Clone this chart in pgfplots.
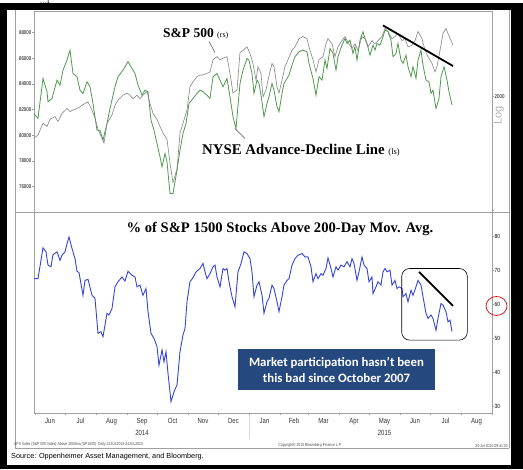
\documentclass[border=0pt]{standalone}
\usepackage{pgfplots}
\pgfplotsset{compat=1.18}
\usepackage{fontspec}
\setmainfont{Liberation Serif}
\newfontfamily\bbg[FakeStretch=0.8]{Liberation Sans}
\newfontfamily\arial{Liberation Sans}
\newfontfamily\calfont{Carlito}
\definecolor{bbgreen}{HTML}{4E9A4E}
\definecolor{bbblue}{HTML}{3545D8}
\definecolor{bbgray}{HTML}{858585}
\definecolor{boxblue}{HTML}{25497E}
\definecolor{axgray}{HTML}{A0A0A0}

\pgfplotstableread{
day val
-1 67.6
3 67.6
8 76.7
11 75.5
13 71.6
16 71.1
18 74.7
22 75.5
25 73.0
27 74.5
30 75.5
32 77.9
34 79.9
37 76.5
40 73.5
42 69.8
44 69.4
48 62.7
50 67.1
53 67.4
57 62.7
60 61.8
63 51.5
66 52.0
68 50.5
72 57.4
74 56.9
77 58.8
80 65.2
83 66.7
87 68.1
90 66.9
93 69.8
97 68.6
100 68.1
102 65.2
105 65.7
108 62.7
111 64.7
113 57.9
116 51.5
119 50.0
122 47.6
124 42.1
127 46.6
129 43.1
131 46.1
133 39.7
136 31.4
139 34.3
142 36.3
145 46.1
148 51.0
150 52.9
152 60.8
155 66.7
158 67.9
161 69.6
165 70.6
168 72.1
170 69.6
172 67.6
175 69.1
178 71.1
180 71.6
182 68.1
185 65.2
188 70.6
190 70.1
192 70.6
194 66.7
197 62.3
200 59.3
203 69.6
206 72.0
209 75.5
212 75.0
215 73.5
217 69.6
219 62.3
222 65.7
224 66.7
227 62.7
229 57.4
232 60.8
234 61.8
237 65.7
239 64.7
242 60.8
244 57.9
247 62.3
249 65.7
252 67.1
254 67.6
257 71.6
260 73.5
263 74.5
267 75.0
270 74.0
273 74.0
276 71.1
278 66.7
281 69.1
283 67.6
286 69.1
288 68.6
291 70.6
293 73.7
296 70.6
298 68.1
301 71.1
303 70.1
306 71.6
309 71.1
312 72.6
315 71.1
317 73.5
319 72.1
322 67.1
324 69.6
327 74.0
329 71.6
332 70.6
334 66.7
337 68.1
338 63.2
341 65.2
343 66.7
346 65.7
348 69.6
350 70.6
352 69.6
355 70.1
357 65.7
360 67.1
362 64.7
364 65.2
367 64.7
368 62.3
371 63.2
373 60.8
376 64.2
378 62.7
381 65.2
383 67.1
386 65.7
388 62.3
391 57.4
393 55.9
396 56.9
398 55.9
401 52.4
403 55.9
406 60.3
408 59.8
411 57.9
413 54.9
415 55.4
417 52.0
}\breadth

\pgfplotstableread{
day val
-1 81698
3 81310
8 84421
12 83386
13 82609
17 82865
22 84289
25 83900
28 85067
32 85845
35 86623
38 84810
42 84553
45 83511
48 83254
52 84164
55 83775
58 82476
62 80399
65 80399
68 79621
72 80920
75 82087
80 83775
83 84553
88 85067
93 85720
97 85199
100 84810
103 83900
107 83122
110 83511
113 83386
116 81177
119 80399
122 79364
125 78329
127 77552
130 78586
132 77940
135 75474
138 75474
142 77288
145 78843
148 80142
151 80920
154 82476
158 82865
162 83254
165 83511
168 83386
172 83122
175 82865
178 84553
182 84810
185 84289
188 83775
192 84421
195 82998
198 81441
201 80531
205 84032
208 85067
212 85977
214 85845
217 84810
219 83254
222 84289
224 84032
227 82609
229 81441
232 82476
234 82998
237 84032
239 83511
242 82219
244 81830
247 83254
249 84032
252 84421
254 84680
257 85456
260 86109
264 86498
268 86623
272 86498
274 85588
278 84421
281 83122
284 84553
287 84289
290 85845
292 85199
295 86755
298 86366
301 85067
303 86109
307 87012
310 87533
312 87144
315 87401
318 86366
320 86887
322 85845
325 87401
328 88054
330 87533
332 87144
335 86234
338 87012
340 86623
342 87144
345 87012
348 87662
350 88179
353 88054
356 87401
358 86109
361 86366
363 87144
366 85845
368 85588
371 86234
373 85331
376 84553
378 85331
381 84421
383 85845
386 86623
388 85456
391 84289
394 84164
396 83254
398 83511
401 82087
404 82865
406 84553
409 85331
412 84289
414 83386
417 82346
}\adline

\pgfplotstableread{
day val
-1 1924
3 1930
8 1951
12 1945
15 1958
20 1963
23 1954
27 1969
32 1978
35 1972
38 1975
42 1978
45 1981
50 1987
53 1990
57 1975
60 1960
63 1940
67 1924
69 1915
72 1951
77 1966
80 1984
83 1993
88 2002
92 2006
95 2002
98 1996
102 2002
105 1996
108 2002
112 2009
115 1987
118 1969
122 1958
125 1945
128 1933
132 1922
135 1880
138 1846
142 1870
145 1933
148 1951
152 1975
155 2018
158 2027
162 2037
165 2040
168 2040
172 2043
175 2046
178 2069
182 2075
185 2069
188 2072
192 2075
195 2043
198 2006
202 2012
205 2083
208 2087
212 2094
215 2081
218 2062
221 2030
223 2056
226 2043
228 1999
231 2012
233 2030
237 2062
239 2056
242 2018
244 2006
247 2030
250 2056
253 2069
257 2087
260 2094
264 2110
268 2114
272 2110
274 2094
278 2069
281 2046
284 2069
288 2075
291 2100
293 2110
297 2100
300 2075
303 2094
307 2106
310 2114
313 2103
317 2091
320 2100
323 2087
327 2114
330 2110
333 2094
337 2106
340 2100
343 2106
347 2114
350 2130
353 2124
357 2110
360 2114
363 2120
367 2106
370 2110
373 2094
377 2097
380 2106
383 2124
387 2110
390 2087
393 2075
397 2062
400 2046
402 2056
405 2087
408 2120
411 2130
413 2120
416 2106
418 2097
}\spx

\begin{document}
\begin{tikzpicture}[x=1pt,y=1pt]
\fill[black] (0,0) rectangle (523,466);
\fill[white] (7,4) rectangle (511,459);
\draw[axgray,line width=0.6pt] (15,21) -- (15,459);
\draw[axgray,line width=0.6pt] (509,21) -- (509,459);
\draw[axgray,line width=0.6pt] (15,21) -- (509,21);
\draw[axgray,line width=0.6pt] (15,257) -- (509,257);

\pgfplotsset{common/.style={
  scale only axis, width=458pt, height=201pt,
  xmin=-1, xmax=457,
  axis line style={axgray, line width=0.6pt},
  tick style={axgray, line width=0.5pt},
  tick align=outside, major tick length=1.5pt,
  /pgf/number format/assume math mode=true,
  anchor=south west,
}}

% top panel: NYSE A/D line (left scale)
\begin{axis}[common, at={(34pt,257pt)},
  ymin=74000, ymax=89630,
  xtick=\empty,
  ytick={76000,78000,80000,82000,84000,86000,88000},
  yticklabels={76000,78000,80000,82000,84000,86000,88000},
  ytick pos=left,
  yticklabel style={font=\bbg\fontsize{5.5}{6}\selectfont, inner sep=1pt},
]
\addplot[bbgreen, line width=0.8pt] table[x=day,y=val] {\adline};
\end{axis}

% top panel: S&P 500 (right, log scale)
\begin{axis}[common, at={(34pt,257pt)},
  ymode=log, ymin=1796, ymax=2164,
  axis y line*=right, axis x line=none,
  ytick={1800,2000}, yticklabels={,2000},
  yticklabel style={font=\bbg\fontsize{5.5}{6}\selectfont, inner sep=1pt},
]
\addplot[bbgray, line width=0.6pt] table[x=day,y=val] {\spx};
\addplot[black, line width=1.8pt] coordinates {(348,2136) (418,2057)};
\end{axis}

% bottom panel
\begin{axis}[common, at={(34pt,56pt)},
  ymin=27.9, ymax=87.1,
  ytick={30,40,50,60,70,80},
  ytick pos=right, yticklabel pos=right,
  yticklabel style={font=\bbg\fontsize{6}{7}\selectfont, inner sep=1pt},
  xtick={0,30,61,92,122,153,183,214,245,273,304,334,365,395,426,457},
  x tick label as interval,
  xticklabels={Jun,Jul,Aug,{Sep\\2014},Oct,Nov,Dec,Jan,Feb,Mar,Apr,{May\\2015},Jun,Jul,Aug},
  xtick pos=bottom,
  x tick label style={align=center, font=\bbg\fontsize{7.5}{11.5}\selectfont, text=black!80},
]
\addplot[bbblue, line width=0.9pt] table[x=day,y=val] {\breadth};
\addplot[black, line width=1.8pt] coordinates {(384,69.6) (418,59.6)};
\draw[black, line width=0.6pt, rounded corners=8pt] (axis cs:366.7,70.6) rectangle (axis cs:432.3,49.5);
\end{axis}

% year separator
\draw[black!15, line width=0.8pt] (249,54) -- (249,30);

% annotations
\node[anchor=base west, inner sep=0pt] at (163,431.5) {\fontsize{13.5}{14}\selectfont\bfseries S\&P 500 \fontsize{8}{9}\selectfont\mdseries(rs)};
\draw[black!70, line width=0.5pt] (209,428) -- (215,417);
\node[anchor=base west, inner sep=0pt] at (202,314.5) {\fontsize{14.8}{15}\selectfont\bfseries NYSE Advance-Decline Line \fontsize{8.5}{9}\selectfont\mdseries(ls)};
\draw[black!70, line width=0.5pt] (235,341) -- (245,331);
\node[anchor=base, inner sep=0pt] at (280,236.5) {\fontsize{14.6}{15}\selectfont\bfseries \% of S\&P 1500 Stocks Above 200-Day Mov. Avg.};

\node[fill=boxblue, minimum width=197pt, minimum height=41pt, inner sep=0pt, align=center, text=white,
  font=\calfont\bfseries\fontsize{12.8}{15.5}\selectfont] at (336.5,99.5)
  {Market participation hasn’t been\\this bad since October 2007};

\draw[red!85!black, line width=0.7pt] (496.5,163.5) ellipse (10.5 and 9.5);

\node[rotate=90, text=black!30, inner sep=0pt] at (499,354) {\arial\fontsize{11}{12}\selectfont Log};

\node[anchor=west, inner sep=0pt, text=black!70] at (14,25) {\bbg\fontsize{4.3}{5}\selectfont SPX Index (S\&P 500 Index) Above 200dma (SP1500) \ Daily 22JUL2013-24JUL2015};
\node[anchor=center, inner sep=0pt, text=black!70] at (310,24) {\bbg\fontsize{4.3}{5}\selectfont Copyright© 2015 Bloomberg Finance L.P.};
\node[anchor=east, inner sep=0pt, text=black!70] at (508,24) {\bbg\fontsize{4.3}{5}\selectfont 24-Jul-2015 09:41:20};
\node[anchor=west, inner sep=0pt] at (11,13) {\arial\fontsize{7.3}{8}\selectfont Source: Oppenheimer Asset Management, and Bloomberg.};
\end{tikzpicture}
\end{document}
